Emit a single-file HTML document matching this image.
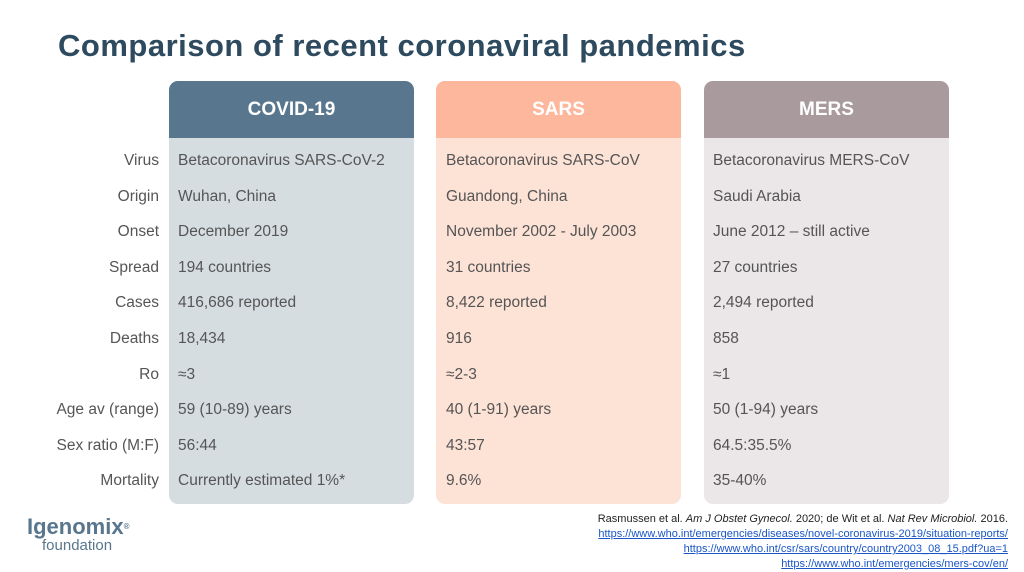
<!DOCTYPE html>
<html><head><meta charset="utf-8"><style>
body{margin:0;width:1024px;height:572px;background:#fff;font-family:"Liberation Sans",sans-serif;position:relative;overflow:hidden}
.t{position:absolute;left:58px;top:28px;font-size:31px;font-weight:bold;color:#2d4a5e;letter-spacing:0.5px}
.col{position:absolute;top:81px;width:245px;height:423px;border-radius:9px;overflow:hidden}
.h{height:57px;line-height:57px;text-align:center;color:#fff;font-size:19px;font-weight:bold}
.r{position:absolute;font-size:15.5px;color:#555;white-space:nowrap}
.l{position:absolute;right:865px;font-size:15.5px;color:#555;white-space:nowrap;text-align:right}
.f{position:absolute;right:16px;font-size:11px;color:#222;text-align:right;line-height:15px;top:512px}
.f a{color:#1a56c7;text-decoration:underline}
</style></head><body>
<div class="t">Comparison of recent coronaviral pandemics</div>
<div class="col" style="left:169px;background:#d5dde1"><div class="h" style="background:#58768d">COVID-19</div></div>
<div class="col" style="left:436px;background:#fde2d6"><div class="h" style="background:#fdb79c">SARS</div></div>
<div class="col" style="left:704px;background:#ebe6e7"><div class="h" style="background:#a99a9d">MERS</div></div>
<div id="rows"></div>
<div style="position:absolute;left:27px;top:516px;color:#58768d;font-size:22px;font-weight:bold;line-height:22px">Igenomix<span style="font-size:8px;vertical-align:top">®</span></div>
<div style="position:absolute;left:42px;top:538px;color:#58768d;font-size:15px;line-height:16px">foundation</div>
<div class="f">Rasmussen et al. <i>Am J Obstet Gynecol.</i> 2020; de Wit et al. <i>Nat Rev Microbiol.</i> 2016.<br><a>https://www.who.int/emergencies/diseases/novel-coronavirus-2019/situation-reports/</a><br><a>https://www.who.int/csr/sars/country/country2003_08_15.pdf?ua=1</a><br><a>https://www.who.int/emergencies/mers-cov/en/</a></div>
<script>
var d=[["Virus","Betacoronavirus SARS-CoV-2","Betacoronavirus SARS-CoV","Betacoronavirus MERS-CoV"],
["Origin","Wuhan, China","Guandong, China","Saudi Arabia"],
["Onset","December 2019","November 2002 - July 2003","June 2012 – still active"],
["Spread","194 countries","31 countries","27 countries"],
["Cases","416,686 reported","8,422 reported","2,494 reported"],
["Deaths","18,434","916","858"],
["Ro","≈3","≈2-3","≈1"],
["Age av (range)","59 (10-89) years","40 (1-91) years","50 (1-94) years"],
["Sex ratio (M:F)","56:44","43:57","64.5:35.5%"],
["Mortality","Currently estimated 1%*","9.6%","35-40%"]];
var h="";d.forEach(function(r,i){var y=152+i*35.6;
h+='<div class="l" style="top:'+y+'px">'+r[0]+'</div>';
[178,446,713].forEach(function(x,j){h+='<div class="r" style="left:'+x+'px;top:'+y+'px">'+r[j+1]+'</div>';});});
document.getElementById("rows").innerHTML=h;
</script>
</body></html>
